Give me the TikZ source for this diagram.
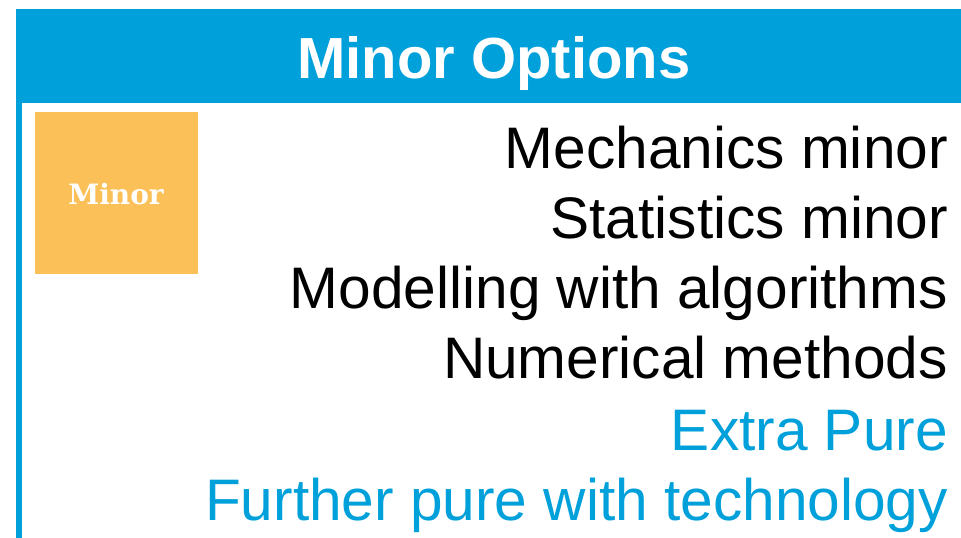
\documentclass[tikz,border=0pt]{standalone}
\usepackage{fontspec}
\setmainfont{Liberation Sans}
\newfontfamily\slabfont{DejaVu Serif}
\definecolor{hdrblue}{RGB}{0,160,218}
\definecolor{minororange}{RGB}{252,192,88}
\begin{document}
\begin{tikzpicture}[x=1pt,y=-1pt,
  itemtext/.style={anchor=base east,inner sep=0pt,font=\fontsize{58.6}{62}\selectfont},
  blueitem/.style={itemtext,text=hdrblue}]
\useasboundingbox (0,0) rectangle (961,538);
\fill[white] (0,0) rectangle (961,538);
% header bar
\fill[hdrblue] (16,9) rectangle (961,103);
\node[text=white,font=\bfseries\fontsize{58}{60}\selectfont,anchor=base,inner sep=0pt] (title) at (494,78) {Minor Options};
% left border
\fill[hdrblue] (16,103) rectangle (22,538);
% orange badge
\node[fill=minororange,minimum width=163pt,minimum height=162pt,inner sep=0pt,anchor=north west] (badge) at (35,112) {};
\node[text=white,font=\slabfont\bfseries\fontsize{28}{30}\selectfont,inner sep=0pt,anchor=base] (badgetext) at (116,204) {Minor};
% items
\node[itemtext] (i1) at (948,168) {Mechanics minor};
\node[itemtext] (i2) at (948,238) {Statistics minor};
\node[itemtext] (i3) at (948,308) {Modelling with algorithms};
\node[itemtext] (i4) at (948,378) {Numerical methods};
\node[blueitem] (i5) at (948,450) {Extra Pure};
\node[blueitem] (i6) at (948,520) {Further pure with technology};
\end{tikzpicture}
\end{document}
